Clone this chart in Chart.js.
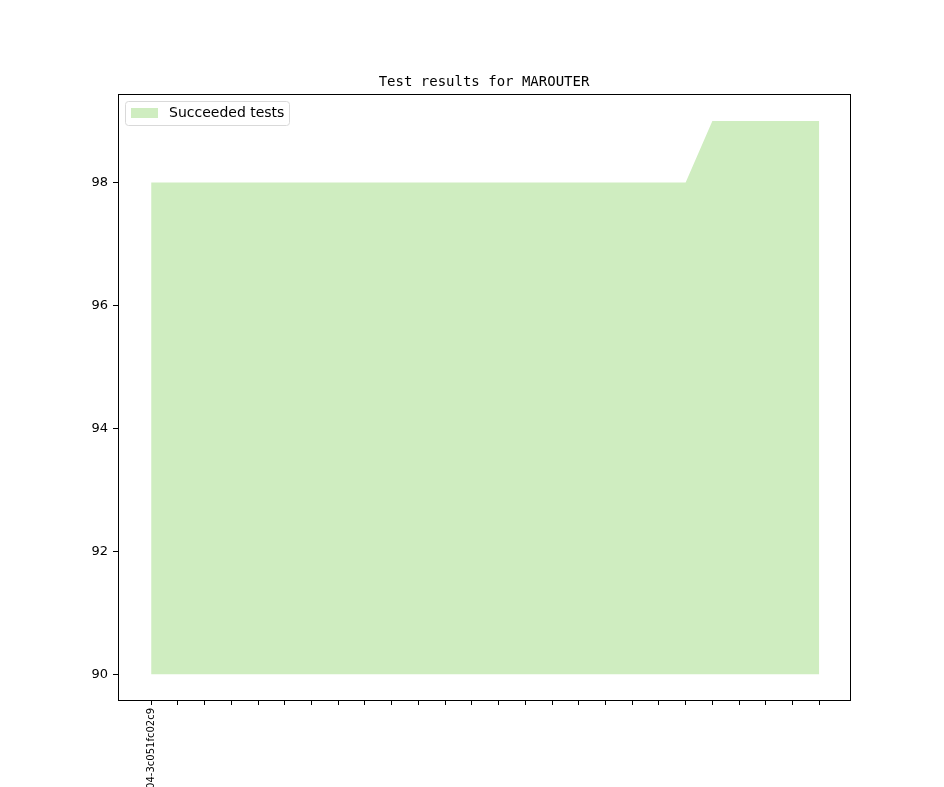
<!DOCTYPE html>
<html>
<head>
<meta charset="utf-8">
<script src="https://cdn.jsdelivr.net/npm/chart.js@4/dist/chart.umd.min.js"></script>
<style>
  html, body { margin: 0; padding: 0; background: #fff; }
  #myChart { display: block; }
</style>
</head>
<body>
<canvas id="myChart" width="944" height="787"></canvas>
<script>
// commit labels along the x axis (only the first one is named)
var commits = ['2004-3c051fc02c9'];
for (var i = 1; i < 26; i++) commits.push('');

// number of succeeded tests per commit
var succeeded = [98, 98, 98, 98, 98, 98, 98, 98, 98, 98, 98, 98, 98, 98, 98, 98, 98, 98, 98, 98, 98, 99, 99, 99, 99, 99];

// y ticks shown on the left
var yTicks = [90, 92, 94, 96, 98];

var fillColor = 'rgb(207,237,192)';

// draws the frame, the title and the legend box the way matplotlib does
var decorations = {
    id: 'decorations',
    afterDraw: function(chart) {
        var ctx = chart.ctx;
        var a = chart.chartArea;
        ctx.save();
        // frame
        ctx.strokeStyle = '#000';
        ctx.lineWidth = 1;
        ctx.strokeRect(Math.round(a.left) + 0.5, Math.round(a.top) + 0.5,
            Math.round(a.right - a.left), Math.round(a.bottom - a.top));
        // title
        ctx.fillStyle = '#000';
        ctx.font = '14px "DejaVu Sans Mono"';
        ctx.textAlign = 'center';
        ctx.textBaseline = 'alphabetic';
        ctx.fillText('Test results for MAROUTER', (a.left + a.right) / 2, 86);
        // legend
        ctx.fillStyle = '#fff';
        ctx.strokeStyle = '#d9d9d9';
        ctx.beginPath();
        ctx.roundRect(125.5, 101.5, 164, 24, 3);
        ctx.fill();
        ctx.stroke();
        ctx.fillStyle = fillColor;
        ctx.fillRect(131, 108, 27, 10);
        ctx.fillStyle = '#000';
        ctx.font = '14px "DejaVu Sans"';
        ctx.textAlign = 'left';
        ctx.textBaseline = 'middle';
        ctx.fillText('Succeeded tests', 169, 113.5);
        ctx.restore();
    }
};

document.addEventListener('DOMContentLoaded', function() {
    var ctx = document.getElementById('myChart').getContext('2d');

    var points = succeeded.map(function(v, i) { return { x: i, y: v }; });

    new Chart(ctx, {
        type: 'line',
        data: {
            datasets: [{
                label: 'Succeeded tests',
                data: points,
                backgroundColor: fillColor,
                borderColor: fillColor,
                borderWidth: 0,
                pointRadius: 0,
                tension: 0,
                fill: { value: 90 }
            }]
        },
        options: {
            responsive: false,
            devicePixelRatio: 1,
            animation: false,
            layout: { padding: { left: 0, right: 94, top: 94, bottom: 0 } },
            plugins: {
                legend: { display: false },
                title: { display: false },
                tooltip: { enabled: false }
            },
            scales: {
                x: {
                    type: 'linear',
                    min: -1.24,
                    max: 26.15,
                    afterBuildTicks: function(scale) {
                        scale.ticks = commits.map(function(c, i) { return { value: i }; });
                    },
                    afterFit: function(scale) { scale.height = 87; },
                    grid: { display: true, drawOnChartArea: false, drawTicks: true, tickLength: 5, tickColor: '#000' },
                    border: { display: false },
                    ticks: {
                        autoSkip: false,
                        minRotation: 90,
                        maxRotation: 90,
                        padding: 3,
                        color: '#000',
                        font: { family: 'DejaVu Sans', size: 10 },
                        callback: function(value) { return commits[value] || ''; }
                    }
                },
                y: {
                    min: 89.58,
                    max: 99.44,
                    afterBuildTicks: function(scale) {
                        scale.ticks = yTicks.map(function(v) { return { value: v }; });
                    },
                    afterFit: function(scale) { scale.width = 118; },
                    grid: { display: true, drawOnChartArea: false, drawTicks: true, tickLength: 5, tickColor: '#000' },
                    border: { display: false },
                    ticks: {
                        padding: 5,
                        color: '#000',
                        font: { family: 'DejaVu Sans', size: 13 }
                    }
                }
            }
        },
        plugins: [decorations]
    });
});
</script>
</body>
</html>
